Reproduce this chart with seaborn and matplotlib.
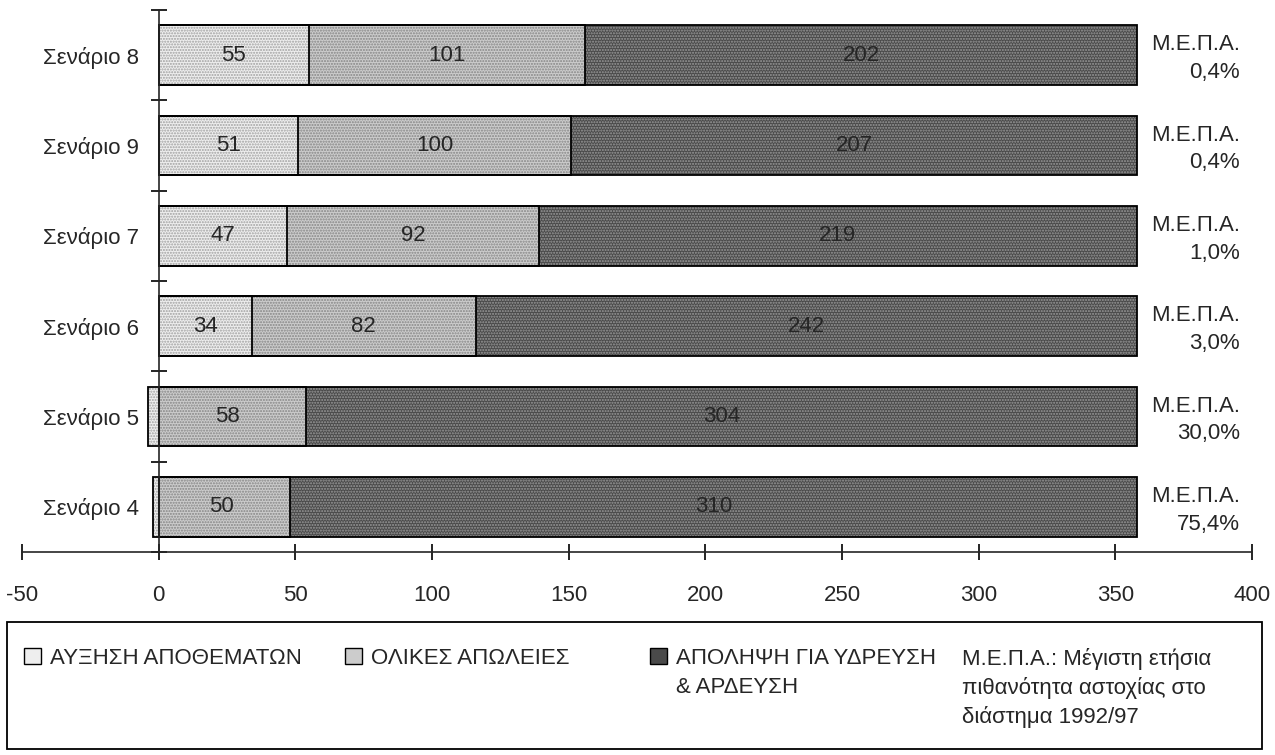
import matplotlib
matplotlib.use("Agg")
import matplotlib.pyplot as plt
import seaborn as sns
import numpy as np
import pandas as pd
from matplotlib.patches import Patch, Rectangle

# ---------------- data ----------------
scenarios = ["Σενάριο 8", "Σενάριο 9", "Σενάριο 7", "Σενάριο 6", "Σενάριο 5", "Σενάριο 4"]
stock_increase = [55, 51, 47, 34, -4, -2]
total_losses = [101, 100, 92, 82, 58, 50]
abstraction = [202, 207, 219, 242, 304, 310]
mepa_values = ["0,4%", "0,4%", "1,0%", "3,0%", "30,0%", "75,4%"]
series_names = ["ΑΥΞΗΣΗ ΑΠΟΘΕΜΑΤΩΝ", "ΟΛΙΚΕΣ ΑΠΩΛΕΙΕΣ", "ΑΠΟΛΗΨΗ ΓΙΑ ΥΔΡΕΥΣΗ\n& ΑΡΔΕΥΣΗ"]
x_ticks = [-50, 0, 50, 100, 150, 200, 250, 300, 350, 400]
mepa_label = "Μ.Ε.Π.Α."
note_lines = ["Μ.Ε.Π.Α.: Μέγιστη ετήσια", "πιθανότητα αστοχίας στο", "διάστημα 1992/97"]

# ---------------- style ----------------
sns.set_style("white")
plt.rcParams["font.family"] = ["Liberation Sans", "DejaVu Sans"]
FS = 16
plt.rcParams["font.size"] = FS
plt.rcParams["hatch.linewidth"] = 1.0

faces = ["#eeeeee", "#cccccc", "#4a4a4a"]
hatch_cols = ["#a0a0a0", "#858585", "#9a9a9a"]
hatches = ["......", "......", "......"]

series = [stock_increase, total_losses, abstraction]
cum = np.cumsum(np.array(series, dtype=float), axis=0)  # cumulative ends per layer

df = pd.DataFrame({"scenario": scenarios})
for i in range(3):
    df[f"end{i}"] = cum[i]

fig = plt.figure(figsize=(12.75, 7.55), dpi=100)
ax = fig.add_axes([22 / 1275, 1 - 552 / 755, (1252 - 22) / 1275, (552 - 10) / 755])

# draw the largest cumulative end first, overlay smaller ones
for i in [2, 1, 0]:
    sns.barplot(data=df, x=f"end{i}", y="scenario", order=scenarios, orient="h",
                color=faces[i], edgecolor=hatch_cols[i], linewidth=0,
                hatch=hatches[i], width=0.66, errorbar=None, ax=ax)

# black outlines around every drawn bar
for p in list(ax.patches):
    ax.add_patch(Rectangle(p.get_xy(), p.get_width(), p.get_height(),
                           fill=False, edgecolor="black", linewidth=1.3, zorder=3))

# value labels at segment centres
starts = np.vstack([np.zeros(len(scenarios)), cum[:-1]])
for i in range(3):
    for j in range(len(scenarios)):
        v = series[i][j]
        if v > 0:
            mid = (starts[i][j] + cum[i][j]) / 2
            ax.text(mid, j, str(v), ha="center", va="center", fontsize=FS, zorder=4)

# right-hand annotations
for j in range(len(scenarios)):
    ax.annotate(mepa_label, (395.5, j), xytext=(0, 7.5), textcoords="offset points",
                ha="right", va="center", fontsize=FS, annotation_clip=False)
    ax.annotate(mepa_values[j], (395.5, j), xytext=(0, -12.5), textcoords="offset points",
                ha="right", va="center", fontsize=FS, annotation_clip=False)

# axes
ax.set_xlim(-50, 400)
ax.set_ylim(5.5, -0.5)
ax.set_xlabel("")
ax.set_ylabel("")
ax.set_xticks(x_ticks)
ax.set_xticklabels([str(t) for t in x_ticks])
ax.spines["top"].set_visible(False)
ax.spines["right"].set_visible(False)
ax.spines["left"].set_position(("data", 0))
ax.spines["left"].set_linewidth(1.2)
ax.spines["bottom"].set_linewidth(1.2)
ax.spines["left"].set_zorder(5)
ax.tick_params(axis="x", which="major", bottom=True, direction="inout", length=11,
               width=1.2, pad=18, labelsize=FS, color="black")
ax.set_yticks(range(len(scenarios)))
ax.set_yticklabels(scenarios)
ax.tick_params(axis="y", which="major", left=True, length=0, pad=14, labelsize=FS)
ax.set_yticks(np.arange(-0.5, len(scenarios) + 0.5, 1.0), minor=True)
ax.tick_params(axis="y", which="minor", left=True, direction="inout", length=11,
               width=1.2, color="black")
ax.grid(False)

# legend box
fig.patches.append(Rectangle((7 / 1275, 1 - 749 / 755), (1262 - 7) / 1275, (749 - 622) / 755,
                             transform=fig.transFigure, fill=False, edgecolor="black",
                             linewidth=1.3))

def make_handle(i):
    try:
        return Patch(facecolor=faces[i], edgecolor="black", hatch=hatches[i],
                     hatchcolor=hatch_cols[i], linewidth=1.0)
    except Exception:
        return Patch(facecolor=faces[i], edgecolor="black", linewidth=1.0)

legend_x = [24, 345, 650]
legends = []
for i in range(3):
    first_line = series_names[i].split("\n")[0]
    leg = fig.legend(handles=[make_handle(i)], labels=[first_line], loc="upper left",
                     bbox_to_anchor=(legend_x[i] / 1275, 1 - 648 / 755), frameon=False,
                     borderpad=0, borderaxespad=0, handlelength=0.75, handleheight=0.75,
                     handletextpad=0.4, fontsize=FS)
    legends.append(leg)

# continuation lines of multi-line legend labels, aligned under the legend text
fig.canvas.draw()
inv = fig.transFigure.inverted()
for i in range(3):
    parts = series_names[i].split("\n")
    if len(parts) > 1:
        bb = legends[i].get_texts()[0].get_window_extent()
        x0, y0 = inv.transform((bb.x0, (bb.y0 + bb.y1) / 2))
        for k, extra in enumerate(parts[1:], start=1):
            fig.text(x0, y0 - k * 29 / 755, extra, ha="left", va="center", fontsize=FS)

for k, line in enumerate(note_lines):
    fig.text(962 / 1275, 1 - (659 + 29 * k) / 755, line, ha="left", va="center",
             fontsize=FS)

fig.savefig("out.png", dpi=100)
